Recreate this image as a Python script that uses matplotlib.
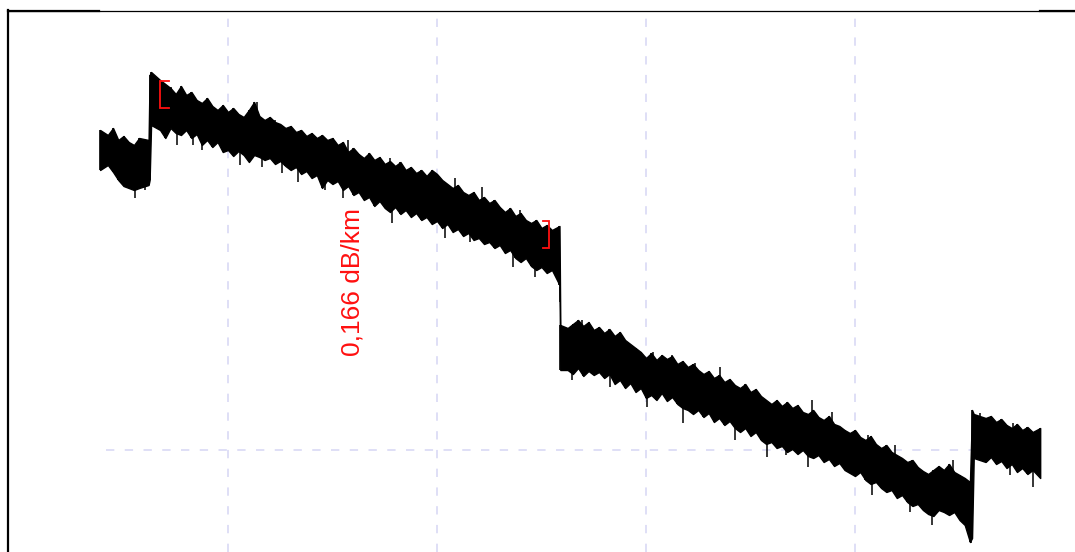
import matplotlib
matplotlib.use("Agg")
import matplotlib.pyplot as plt
import numpy as np

plt.rcParams['lines.scale_dashes'] = False

# ---- data: OTDR trace, min/max level per distance bin ----
dist_km = [
    1.94, 2.125, 2.25, 2.375, 2.5, 2.625, 2.75, 2.875, 3.10,
    3.125,
    3.16, 3.375, 3.5, 3.625, 3.75, 3.875, 4.0, 4.125, 4.25, 4.375,
    4.5, 4.625, 4.75, 4.875, 5.0, 5.125, 5.25, 5.375, 5.5, 5.625,
    5.75, 5.875, 6.0, 6.125, 6.25, 6.375, 6.5, 6.625, 6.75, 6.875,
    7.0, 7.125, 7.25, 7.375, 7.5, 7.625, 7.75, 7.875, 8.0, 8.125,
    8.25, 8.375, 8.5, 8.625, 8.75, 8.875, 9.0, 9.125, 9.25, 9.375,
    9.5, 9.625, 9.75, 9.875, 10.0, 10.125, 10.25, 10.375, 10.5, 10.625,
    10.75, 10.875, 11.0, 11.125, 11.25, 11.375, 11.5, 11.625, 11.75, 11.875,
    12.0, 12.125, 12.25, 12.375, 12.5, 12.625, 12.75, 12.93,
    12.95,
    13.125, 13.25, 13.375, 13.5, 13.625, 13.75, 13.875, 14.0, 14.125, 14.25,
    14.375, 14.5, 14.625, 14.75, 14.875, 15.0, 15.125, 15.25, 15.375, 15.5,
    15.625, 15.75, 15.875, 16.0, 16.125, 16.25, 16.375, 16.5, 16.625, 16.75,
    16.875, 17.0, 17.125, 17.25, 17.375, 17.5, 17.625, 17.75, 17.875, 18.0,
    18.125, 18.25, 18.375, 18.5, 18.625, 18.75, 18.875, 19.0, 19.125, 19.25,
    19.375, 19.5, 19.625, 19.75, 19.875, 20.0, 20.125, 20.25, 20.375, 20.5,
    20.625, 20.75, 20.875, 21.0, 21.125, 21.25, 21.375, 21.5, 21.625, 21.75,
    21.875, 22.0, 22.125, 22.25, 22.375, 22.5, 22.625, 22.75,
    22.80,
    22.84, 23.125, 23.25, 23.375, 23.5, 23.625, 23.75, 23.875, 24.0, 24.125,
    24.25, 24.43,
]

level_hi_db = [
    13.20, 13.15, 13.22, 13.10, 13.14, 13.08, 13.05, 13.12, 13.10,
    13.75,
    13.78, 13.70, 13.66, 13.62, 13.56, 13.64, 13.55, 13.58, 13.50, 13.47,
    13.52, 13.44, 13.40, 13.45, 13.38, 13.42, 13.36, 13.33, 13.40, 13.48,
    13.34, 13.30, 13.33, 13.28, 13.26, 13.22, 13.24, 13.18, 13.20, 13.14,
    13.17, 13.12, 13.15, 13.10, 13.12, 13.05, 13.08, 12.98, 13.02, 12.96,
    12.92, 12.97, 12.90, 12.93, 12.86, 12.89, 12.84, 12.88, 12.80, 12.83,
    12.77, 12.80, 12.74, 12.80, 12.76, 12.70, 12.66, 12.62, 12.65, 12.58,
    12.55, 12.58, 12.50, 12.53, 12.47, 12.50, 12.43, 12.38, 12.42, 12.34,
    12.37, 12.30, 12.27, 12.30, 12.22, 12.25, 12.20, 12.24,
    11.25,
    11.22, 11.26, 11.30, 11.24, 11.28, 11.20, 11.23, 11.17, 11.21, 11.14,
    11.18, 11.10, 11.06, 11.02, 10.98, 10.92, 10.97, 10.90, 10.95, 10.91,
    10.94, 10.86, 10.89, 10.83, 10.86, 10.80, 10.76, 10.79, 10.72, 10.75,
    10.68, 10.71, 10.65, 10.62, 10.66, 10.58, 10.61, 10.54, 10.50, 10.46,
    10.50, 10.44, 10.48, 10.42, 10.45, 10.38, 10.36, 10.40, 10.33, 10.30,
    10.34, 10.26, 10.24, 10.20, 10.17, 10.20, 10.13, 10.10, 10.14, 10.06,
    10.02, 10.05, 9.98, 9.95, 9.92, 9.88, 9.90, 9.83, 9.79, 9.76,
    9.80, 9.84, 9.80, 9.86, 9.78, 9.75, 9.72, 9.68,
    10.40,
    10.36, 10.32, 10.34, 10.28, 10.31, 10.25, 10.22, 10.26, 10.20, 10.23,
    10.18, 10.22,
]

level_lo_db = [
    12.80, 12.85, 12.78, 12.70, 12.64, 12.62, 12.60, 12.62, 12.65,
    12.70,
    13.25, 13.20, 13.12, 13.22, 13.17, 13.15, 13.20, 13.12, 13.16, 13.05,
    13.10, 13.03, 13.08, 12.98, 13.00, 12.94, 12.99, 12.95, 12.88, 12.95,
    12.93, 12.90, 12.92, 12.86, 12.89, 12.84, 12.80, 12.83, 12.76, 12.79,
    12.72, 12.75, 12.62, 12.70, 12.66, 12.69, 12.60, 12.64, 12.55, 12.58,
    12.50, 12.53, 12.44, 12.49, 12.42, 12.38, 12.43, 12.36, 12.40, 12.33,
    12.37, 12.30, 12.33, 12.26, 12.29, 12.22, 12.26, 12.18, 12.21, 12.14,
    12.17, 12.10, 12.12, 12.06, 12.08, 12.02, 12.05, 11.97, 12.00, 11.92,
    11.88, 11.92, 11.84, 11.80, 11.83, 11.77, 11.80, 11.65,
    10.80,
    10.80, 10.76, 10.82, 10.74, 10.79, 10.75, 10.78, 10.72, 10.76, 10.66,
    10.70, 10.62, 10.67, 10.58, 10.62, 10.52, 10.55, 10.50, 10.57, 10.49,
    10.53, 10.46, 10.42, 10.40, 10.36, 10.40, 10.33, 10.37, 10.28, 10.32,
    10.25, 10.29, 10.22, 10.18, 10.22, 10.14, 10.18, 10.10, 10.06, 10.08,
    10.02, 10.04, 9.98, 10.01, 9.96, 10.00, 9.94, 9.92, 9.95, 9.88,
    9.91, 9.84, 9.87, 9.80, 9.77, 9.74, 9.78, 9.70, 9.66, 9.68,
    9.62, 9.58, 9.60, 9.52, 9.55, 9.48, 9.44, 9.46, 9.40, 9.36,
    9.34, 9.40, 9.38, 9.35, 9.38, 9.30, 9.25, 9.08,
    9.12,
    9.92, 9.88, 9.93, 9.86, 9.89, 9.82, 9.86, 9.78, 9.82, 9.76,
    9.80, 9.72,
]

# isolated noise spikes (distance km, level dB)
spike_km = [
    3.64, 3.90, 4.81, 5.69, 6.12, 7.87, 8.88, 10.43, 11.08, 11.99,
    2.78, 3.01, 3.78, 4.16, 4.38, 5.29, 5.81, 6.29, 6.67, 7.32,
    7.75, 8.92, 10.19, 10.79, 11.82, 12.34, 12.94,
    13.47, 13.90, 15.17, 15.62, 16.17, 16.77, 18.97, 19.45, 20.31,
    20.96, 22.34, 22.99, 23.78,
    13.23, 14.14, 15.02, 15.89, 17.13, 17.89, 18.35, 18.88, 20.41,
    21.32, 21.84, 22.78, 23.71, 24.26,
]
spike_db = [
    13.63, 13.60, 13.40, 13.48, 13.30, 13.10, 12.92, 12.72, 12.63, 12.40,
    12.52, 12.60, 13.05, 13.05, 13.00, 12.85, 12.83, 12.77, 12.68, 12.60,
    12.52, 12.27, 12.12, 12.08, 11.83, 11.73, 11.63,
    11.30, 11.22, 10.98, 10.95, 10.87, 10.83, 10.50, 10.38, 10.15,
    10.05, 9.90, 10.37, 10.27,
    10.70, 10.63, 10.43, 10.27, 10.10, 9.93, 9.95, 9.83, 9.55,
    9.38, 9.25, 9.07, 9.75, 9.63,
]

assert len(dist_km) == len(level_hi_db) == len(level_lo_db)
assert len(spike_km) == len(spike_db)

# grid positions
grid_x_km = [5, 10, 15, 20]
grid_y_db = [10.0]

# section markers (start / end of attenuation measurement)
marker_start_km = 3.375
marker_end_km = 12.68
marker_start_db = (13.42, 13.69)
marker_end_db = (12.02, 12.29)
slope_label = "0,166 dB/km"
label_pos = (7.99, 11.68)

# ---- figure ----
fig = plt.figure(figsize=(10.75, 5.52), dpi=100)
ax = fig.add_axes([8.3 / 1075, 0.0, 1 - 8.3 / 1075, (552 - 10.5) / 552])
ax.set_xlim(-0.256, 25.263)
ax.set_ylim(8.98, 14.395)

grid_color = '#dcdcf6'
for gx in grid_x_km:
    ax.axvline(gx, ymin=0, ymax=0.99, color=grid_color, lw=1.3,
               linestyle=(0, (6, 7.5)), zorder=1)
for gy in grid_y_db:
    ax.axhline(gy, xmin=0.092, xmax=0.967, color=grid_color, lw=1.3,
               linestyle=(0, (6, 7.5)), zorder=1)

ax.fill_between(dist_km, level_lo_db, level_hi_db, facecolor='black',
                edgecolor='black', linewidth=1.0, zorder=3)
ax.vlines(dist_km, level_lo_db, level_hi_db, colors='black',
          linewidths=1.2, capstyle='butt', zorder=3)

# spikes: drawn from the trace's mid level out to the spike tip
mid_db = np.interp(spike_km, dist_km,
                   (np.array(level_hi_db) + np.array(level_lo_db)) / 2)
ax.vlines(spike_km, mid_db, spike_db, colors='black', linewidths=1.1,
          capstyle='butt', zorder=3)

# markers
red = '#ff1010'
arm1 = 0.22
arm2 = 0.15
ax.plot([marker_start_km + arm1, marker_start_km, marker_start_km, marker_start_km + arm1],
        [marker_start_db[1], marker_start_db[1], marker_start_db[0], marker_start_db[0]],
        color=red, lw=1.3, zorder=4, solid_joinstyle='miter')
ax.plot([marker_end_km - arm2, marker_end_km, marker_end_km, marker_end_km - arm2],
        [marker_end_db[1], marker_end_db[1], marker_end_db[0], marker_end_db[0]],
        color=red, lw=1.3, zorder=4, solid_joinstyle='miter')

ax.text(label_pos[0], label_pos[1], slope_label, rotation=90, color=red,
        fontsize=19, family='Liberation Sans', ha='center', va='center', zorder=5)

# frame
ax.set_xticks([])
ax.set_yticks([])
for side in ['right', 'bottom']:
    ax.spines[side].set_visible(False)
ax.spines['left'].set_linewidth(1.6)
ax.spines['top'].set_linewidth(0.9)
ax.plot([0, 91 / 1067], [1, 1], transform=ax.transAxes, color='black',
        lw=1.6, clip_on=False, zorder=6)
ax.plot([1032 / 1067, 1], [1, 1], transform=ax.transAxes, color='black',
        lw=1.6, clip_on=False, zorder=6)

fig.savefig('out.png', dpi=100)
